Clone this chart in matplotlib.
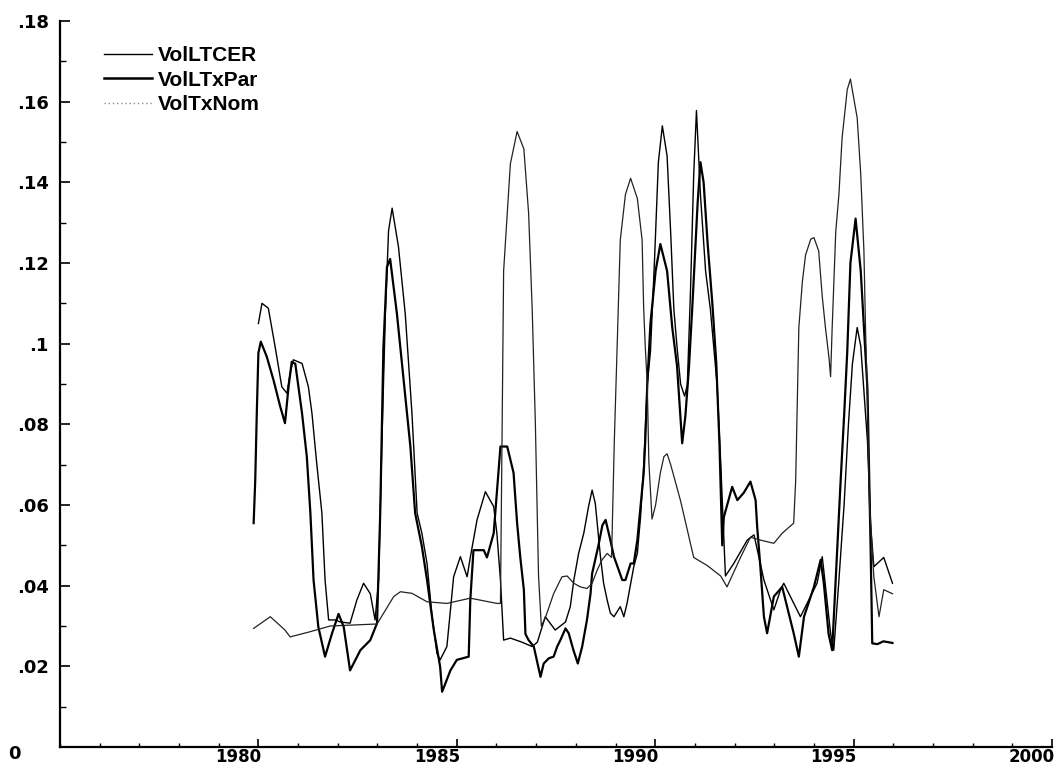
import matplotlib
matplotlib.use("Agg")
import matplotlib.pyplot as plt
from matplotlib.lines import Line2D
from matplotlib.transforms import ScaledTranslation

# ---------------------------------------------------------------
# Volatilidades (anos / valores)
ltcer_x = [1980.00, 1980.09, 1980.25, 1980.42, 1980.59, 1980.72, 1980.80, 1980.88,
           1981.10, 1981.26, 1981.35, 1981.47, 1981.60, 1981.68, 1981.77, 1981.94,
           1982.06, 1982.31, 1982.48, 1982.65, 1982.82, 1982.94, 1983.03, 1983.11,
           1983.20, 1983.28, 1983.37, 1983.53, 1983.70, 1983.87, 1984.00, 1984.12,
           1984.25, 1984.37, 1984.50, 1984.58, 1984.75, 1984.84, 1984.92, 1985.09,
           1985.26, 1985.34, 1985.51, 1985.72, 1985.93, 1986.01, 1986.10, 1986.18,
           1986.35, 1986.64, 1986.90, 1987.03, 1987.23, 1987.48, 1987.74, 1987.86,
           1987.95, 1988.07, 1988.20, 1988.32, 1988.41, 1988.49, 1988.62, 1988.70,
           1988.79, 1988.87, 1988.96, 1989.12, 1989.21, 1989.29, 1989.46, 1989.55,
           1989.63, 1989.71, 1989.80, 1989.88, 1989.98, 1990.08, 1990.18, 1990.30,
           1990.39, 1990.47, 1990.55, 1990.64, 1990.74, 1990.81, 1990.89, 1990.97,
           1991.04, 1991.14, 1991.27, 1991.39, 1991.56, 1991.65, 1991.73, 1991.77,
           1991.98, 1992.32, 1992.49, 1992.74, 1992.99, 1993.16, 1993.24, 1993.66,
           1994.08, 1994.21, 1994.42, 1994.50, 1994.62, 1994.76, 1994.87, 1994.97,
           1995.09, 1995.18, 1995.35, 1995.43, 1995.51, 1995.76, 1995.98]
ltcer_y = [0.105, 0.110, 0.1088, 0.0993, 0.0893, 0.0877, 0.0927, 0.096,
           0.0951, 0.0893, 0.0827, 0.0703, 0.058, 0.0414, 0.0315, 0.0315,
           0.031, 0.0307, 0.0364, 0.0406, 0.038, 0.0315, 0.0414, 0.0745,
           0.1075, 0.128, 0.1336, 0.124, 0.1075, 0.0827, 0.058, 0.053,
           0.0455, 0.033, 0.0232, 0.0216, 0.0249, 0.034, 0.0422, 0.0472,
           0.0422, 0.047, 0.0563, 0.0633, 0.0596, 0.053, 0.0414, 0.0265,
           0.027, 0.026, 0.0249, 0.026, 0.0323, 0.029, 0.031, 0.0348,
           0.0414, 0.048, 0.053, 0.0596, 0.0637, 0.0604, 0.0472, 0.0406,
           0.0364, 0.0332, 0.0323, 0.0348, 0.0323, 0.0356, 0.0447, 0.048,
           0.057, 0.0695, 0.090, 0.098, 0.120, 0.145, 0.154, 0.1465,
           0.1275, 0.1086, 0.0992, 0.090, 0.087, 0.0898, 0.1133, 0.1417,
           0.1578, 0.137, 0.118, 0.1086, 0.0898, 0.0707, 0.0518, 0.0424,
           0.0455, 0.0513, 0.0526, 0.0414, 0.034, 0.039, 0.0406, 0.0323,
           0.0406, 0.0472, 0.0282, 0.024, 0.040, 0.060, 0.080, 0.095,
           0.104, 0.0994, 0.0757, 0.055, 0.0447, 0.047, 0.0406]

ltxpar_x = [1979.88, 1979.92, 1979.96, 1980.00, 1980.06, 1980.21, 1980.38, 1980.55,
            1980.67, 1980.76, 1980.84, 1980.93, 1981.10, 1981.22, 1981.31, 1981.39,
            1981.51, 1981.68, 1981.85, 1982.02, 1982.15, 1982.31, 1982.57, 1982.82,
            1982.99, 1983.07, 1983.15, 1983.24, 1983.32, 1983.49, 1983.66, 1983.83,
            1983.95, 1984.12, 1984.25, 1984.42, 1984.58, 1984.63, 1984.84, 1985.00,
            1985.30, 1985.34, 1985.42, 1985.68, 1985.76, 1985.93, 1986.10, 1986.27,
            1986.43, 1986.52, 1986.60, 1986.69, 1986.73, 1986.81, 1986.94, 1987.11,
            1987.19, 1987.32, 1987.44, 1987.53, 1987.61, 1987.74, 1987.82, 1987.94,
            1988.05, 1988.16, 1988.28, 1988.37, 1988.41, 1988.57, 1988.67, 1988.75,
            1988.87, 1988.96, 1989.17, 1989.25, 1989.38, 1989.46, 1989.55, 1989.63,
            1989.71, 1989.75, 1989.80, 1989.88, 1990.01, 1990.13, 1990.30, 1990.43,
            1990.55, 1990.68, 1990.76, 1990.85, 1990.94, 1991.07, 1991.14, 1991.22,
            1991.32, 1991.44, 1991.54, 1991.62, 1991.69, 1991.73, 1991.94, 1992.07,
            1992.23, 1992.40, 1992.53, 1992.57, 1992.65, 1992.74, 1992.82, 1992.99,
            1993.20, 1993.49, 1993.62, 1993.75, 1994.00, 1994.17, 1994.25, 1994.37,
            1994.46, 1994.67, 1994.76, 1994.84, 1994.92, 1995.05, 1995.18, 1995.26,
            1995.35, 1995.43, 1995.47, 1995.60, 1995.75, 1995.98]
ltxpar_y = [0.0555, 0.066, 0.083, 0.0977, 0.1005, 0.0968, 0.091, 0.0844,
            0.0803, 0.0893, 0.0955, 0.095, 0.0827, 0.072, 0.058, 0.0414,
            0.0298, 0.0224, 0.028, 0.033, 0.0298, 0.019, 0.024, 0.0265,
            0.0307, 0.058, 0.099, 0.119, 0.121, 0.1075, 0.091, 0.0745,
            0.058, 0.0497, 0.0414, 0.029, 0.0199, 0.0137, 0.019, 0.0216,
            0.0224, 0.0364, 0.0488, 0.0488, 0.047, 0.053, 0.0745, 0.0745,
            0.068, 0.0555, 0.047, 0.039, 0.028, 0.0265, 0.0249, 0.0174,
            0.0207, 0.022, 0.0224, 0.0249, 0.0265, 0.0294, 0.0282, 0.024,
            0.0207, 0.0249, 0.0315, 0.038, 0.043, 0.050, 0.055, 0.0563,
            0.0513, 0.0472, 0.0414, 0.0414, 0.0455, 0.0455, 0.0513, 0.0596,
            0.0679, 0.076, 0.0898, 0.105, 0.118, 0.1247, 0.118, 0.104,
            0.0945, 0.0753, 0.082, 0.094, 0.110, 0.135, 0.145, 0.140,
            0.125, 0.110, 0.095, 0.075, 0.050, 0.057, 0.0645, 0.0612,
            0.063, 0.0658, 0.0612, 0.0546, 0.0447, 0.0323, 0.0282, 0.0373,
            0.0397, 0.0282, 0.0224, 0.0323, 0.0397, 0.0464, 0.0406, 0.028,
            0.024, 0.0654, 0.082, 0.098, 0.120, 0.131, 0.118, 0.104,
            0.0885, 0.0488, 0.0257, 0.0255, 0.0262, 0.0258]

txnom_x = [1979.88, 1980.30, 1980.67, 1980.80, 1981.31, 1981.81, 1982.99, 1983.41,
           1983.58, 1983.87, 1984.25, 1984.75, 1985.34, 1986.01, 1986.10, 1986.18,
           1986.35, 1986.52, 1986.69, 1986.81, 1986.90, 1986.98, 1987.02, 1987.06,
           1987.13, 1987.23, 1987.44, 1987.65, 1987.78, 1987.95, 1988.11, 1988.28,
           1988.41, 1988.54, 1988.66, 1988.79, 1988.90, 1988.97, 1989.04, 1989.12,
           1989.25, 1989.38, 1989.55, 1989.67, 1989.71, 1989.75, 1989.80, 1989.84,
           1989.92, 1990.01, 1990.13, 1990.22, 1990.30, 1990.39, 1990.64, 1990.97,
           1991.31, 1991.65, 1991.81, 1992.15, 1992.40, 1992.65, 1992.99, 1993.20,
           1993.49, 1993.54, 1993.58, 1993.62, 1993.71, 1993.79, 1993.92, 1994.00,
           1994.12, 1994.21, 1994.29, 1994.38, 1994.42, 1994.46, 1994.55, 1994.63,
           1994.71, 1994.84, 1994.92, 1995.09, 1995.18, 1995.26, 1995.30, 1995.35,
           1995.40, 1995.51, 1995.64, 1995.76, 1995.98]
txnom_y = [0.0294, 0.0323, 0.029, 0.0273, 0.0286, 0.030, 0.0305, 0.0373,
           0.0385, 0.0381, 0.036, 0.0356, 0.0369, 0.0356, 0.0356, 0.118,
           0.1446, 0.1526, 0.1483, 0.1323, 0.1086, 0.0802, 0.0612, 0.0424,
           0.030, 0.032, 0.038, 0.0422, 0.0424, 0.0406, 0.0397, 0.0393,
           0.0406, 0.0439, 0.0464, 0.048, 0.047, 0.076, 0.099, 0.1257,
           0.137, 0.141, 0.136, 0.1257, 0.1086, 0.0992, 0.0898, 0.0707,
           0.0565, 0.060, 0.068, 0.072, 0.0727, 0.070, 0.061, 0.047,
           0.045, 0.0424, 0.0397, 0.047, 0.052, 0.0513, 0.0505, 0.053,
           0.0555, 0.066, 0.085, 0.104, 0.1155, 0.122, 0.1259, 0.1263,
           0.123, 0.1117, 0.104, 0.0965, 0.0918, 0.104, 0.1277, 0.137,
           0.151, 0.163, 0.1656, 0.156, 0.142, 0.123, 0.104, 0.085,
           0.060, 0.0422, 0.0323, 0.039, 0.038]

series_names = ["VolLTCER", "VolLTxPar", "VolTxNom"]
x_ticks = [1980, 1985, 1990, 1995, 2000]
x_labels = ["1980", "1985", "1990", "1995", "2000"]
y_ticks = [0, 0.02, 0.04, 0.06, 0.08, 0.10, 0.12, 0.14, 0.16, 0.18]
y_labels = ["0", ".02", ".04", ".06", ".08", ".1", ".12", ".14", ".16", ".18"]
# ---------------------------------------------------------------

W, H = 1062, 770
fig = plt.figure(figsize=(W / 100.0, H / 100.0), dpi=100)
ax = fig.add_axes([60.0 / W, 1 - 747.0 / H, 992.0 / W, 726.0 / H])

ax.plot(ltcer_x, ltcer_y, color="black", lw=1.0)
ax.plot(ltxpar_x, ltxpar_y, color="black", lw=1.6)
ax.plot(txnom_x, txnom_y, color="#222222", lw=0.9)

ax.set_xlim(1975, 2000)
ax.set_ylim(0, 0.18)

# ejes estilo viejo: solo izquierda y abajo, ticks hacia adentro
for s in ["top", "right"]:
    ax.spines[s].set_visible(False)
for s in ["left", "bottom"]:
    ax.spines[s].set_linewidth(1.6)
    ax.spines[s].set_color("black")

ax.set_xticks(x_ticks)
ax.set_xticklabels(x_labels)
ax.set_xticks(range(1975, 2001), minor=True)
ax.set_yticks(y_ticks)
ax.set_yticklabels(y_labels)
ax.set_yticks([i / 100.0 for i in range(19)], minor=True)

ax.tick_params(axis="x", which="major", direction="in", length=6, width=1.2, pad=1)
ax.tick_params(axis="x", which="minor", direction="in", length=3, width=1.0)
ax.tick_params(axis="y", which="major", direction="in", length=7, width=1.2, pad=8)
ax.tick_params(axis="y", which="minor", direction="in", length=4, width=1.0)

for lab in ax.get_xticklabels():
    lab.set_fontfamily("DejaVu Sans")
    lab.set_fontweight("bold")
    lab.set_fontsize(12)
    lab.set_transform(lab.get_transform() + ScaledTranslation(-0.20, 0, fig.dpi_scale_trans))
for lab in ax.get_yticklabels():
    lab.set_fontfamily("DejaVu Sans")
    lab.set_fontweight("bold")
    lab.set_fontsize(13)
zero = ax.get_yticklabels()[0]
zero.set_transform(zero.get_transform() + ScaledTranslation(-0.28, -0.05, fig.dpi_scale_trans))

# leyenda
handles = [Line2D([], [], color="black", lw=1.0),
           Line2D([], [], color="black", lw=1.8),
           Line2D([], [], color="0.55", lw=1.0, ls=(0, (1, 2)))]
leg = ax.legend(handles, series_names, loc="upper left", bbox_to_anchor=(0.044, 0.965),
                frameon=False, handlelength=2.3, handletextpad=0.3, labelspacing=0.25,
                borderpad=0, borderaxespad=0,
                prop={"family": "Liberation Sans", "weight": "bold", "size": 15})

fig.savefig("out.png", dpi=100)
